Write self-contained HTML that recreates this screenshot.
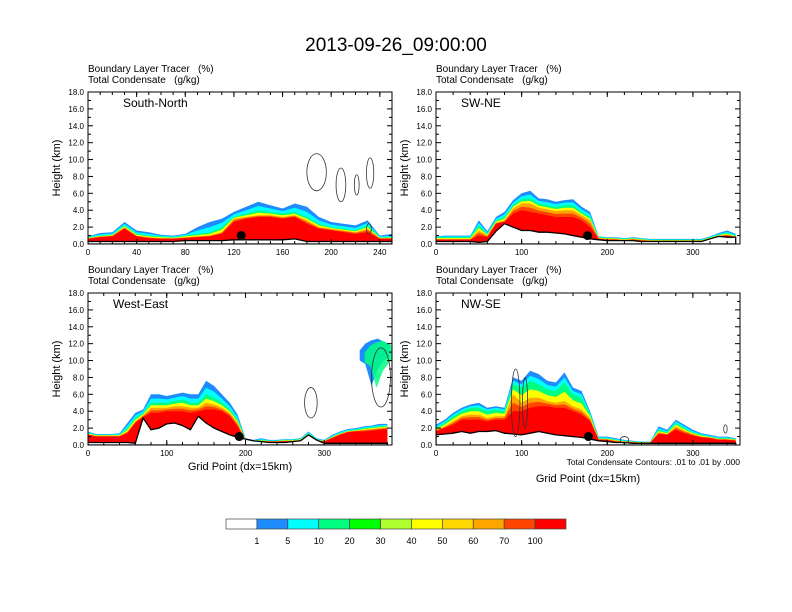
<!DOCTYPE html>
<html><head><meta charset="utf-8"><style>
body{margin:0;background:#fff;}
svg{display:block;font-family:"Liberation Sans",sans-serif;}
text{white-space:pre;}
</style></head>
<body>
<svg id="chart" width="792" height="612" viewBox="0 0 792 612" xmlns="http://www.w3.org/2000/svg">
<rect x="0" y="0" width="792" height="612" fill="#fff"/>
<text x="396" y="51" font-size="19" text-anchor="middle">2013-09-26_09:00:00</text>
</svg>
<script>
// ---- data (heights in km, sampled every 10 grid points) ----
const p1Terrain=[0.3,0.3,0.3,0.3,0.3,0.3,0.3,0.3,0.4,0.4,0.4,0.4,0.5,0.5,0.5,0.5,0.5,0.6,0.3,0.3,0.3,0.3,0.3,0.3,0.3,0.3];
const p1Blue=[0.9,1.3,1.4,2.6,1.6,1.4,1.1,1.0,1.2,2.0,2.6,3.0,3.8,4.4,5.0,4.6,4.2,4.8,4.4,3.2,2.6,2.4,2.2,2.8,1.0,1.2];
const p1Green=[0.8,1.0,1.1,2.2,1.2,1.0,0.9,0.8,1.0,1.2,1.4,2.0,3.2,3.6,4.0,3.8,3.6,3.8,3.2,2.4,2.0,1.8,1.6,2.2,0.8,0.8];
const p1Orange=[0.7,0.9,1.0,2.0,1.0,0.8,0.7,0.7,0.8,0.9,1.0,1.4,3.0,3.2,3.4,3.4,3.2,3.4,2.8,2.0,1.8,1.6,1.4,1.8,0.7,0.7];
const p1Red=[0.6,0.8,0.9,1.8,0.9,0.7,0.6,0.6,0.7,0.8,0.9,1.2,2.6,3.0,3.2,3.2,3.0,3.2,2.4,1.8,1.6,1.4,1.2,1.4,0.6,0.6];

const p2Terrain=[0.3,0.3,0.3,0.3,0.3,0.2,0.3,1.5,2.4,2.0,1.6,1.6,1.4,1.4,1.3,1.2,1.0,0.8,0.6,0.5,0.4,0.4,0.4,0.4,0.3,0.3,0.3,0.3,0.3,0.3,0.3,0.3,0.6,0.9,0.8,0.8];
const p2Blue=[0.9,1.0,1.0,1.0,1.0,2.8,1.5,3.2,3.8,5.2,6.0,6.3,5.4,5.3,5.0,5.2,5.3,4.4,3.8,0.9,0.8,0.8,0.7,0.8,0.7,0.6,0.6,0.6,0.6,0.6,0.6,0.6,0.9,1.3,1.6,1.2];
const p2Green=[0.8,0.8,0.8,0.8,0.8,2.2,1.2,2.8,3.2,4.6,5.3,5.4,4.8,4.6,4.4,4.6,4.6,3.8,3.2,0.8,0.7,0.7,0.6,0.7,0.6,0.5,0.5,0.5,0.5,0.5,0.5,0.5,0.8,1.1,1.3,1.0];
const p2Orange=[0.6,0.6,0.6,0.6,0.6,1.6,1.0,2.5,2.8,4.2,4.8,4.8,4.3,4.1,3.9,4.0,4.0,3.4,2.8,0.7,0.6,0.6,0.5,0.6,0.5,0.4,0.4,0.4,0.4,0.4,0.4,0.4,0.7,1.0,1.1,0.9];
const p2Red=[0.5,0.5,0.5,0.5,0.5,1.0,0.8,2.4,2.6,3.6,4.0,3.8,3.6,3.4,3.2,3.2,3.2,2.8,2.0,0.6,0.5,0.5,0.4,0.5,0.4,0.35,0.35,0.35,0.35,0.35,0.35,0.35,0.6,0.9,1.0,0.8];

const p3Terrain=[0.3,0.3,0.3,0.3,0.3,0.3,0.2,3.2,1.8,2.0,2.5,2.6,2.3,1.8,3.4,2.6,2.0,1.6,1.2,0.9,0.7,0.5,0.4,0.3,0.3,0.3,0.4,0.5,1.2,0.6,0.2,0.2,0.2,0.2,0.2,0.2,0.2,0.2,0.2];
const p3Blue=[1.6,1.3,1.3,1.3,1.4,2.6,3.8,4.2,6.0,6.0,5.8,6.0,6.2,6.0,6.0,7.6,7.0,6.0,5.0,3.6,0.8,0.6,0.8,0.6,0.6,0.7,0.7,0.8,1.6,0.8,0.6,1.2,1.6,1.9,2.0,2.2,2.3,2.5,2.5];
const p3Green=[1.4,1.2,1.2,1.2,1.2,2.0,3.2,3.8,5.0,5.0,5.0,5.2,5.4,5.0,5.0,6.0,5.6,5.0,4.2,3.0,0.7,0.5,0.6,0.5,0.5,0.6,0.6,0.7,1.4,0.7,0.5,1.0,1.4,1.7,1.8,2.0,2.1,2.2,2.3];
const p3Orange=[1.3,1.1,1.1,1.1,1.1,1.6,2.8,3.5,4.4,4.4,4.4,4.6,4.6,4.4,4.4,5.0,4.8,4.4,3.8,2.6,0.6,0.45,0.5,0.45,0.45,0.5,0.5,0.6,1.2,0.6,0.45,0.9,1.3,1.6,1.7,1.8,1.9,2.0,2.1];
const p3Red=[1.2,1.0,1.0,1.0,1.0,1.4,2.6,3.3,3.8,3.8,4.0,4.0,4.0,3.8,4.0,4.2,4.2,4.0,3.4,2.2,0.5,0.4,0.45,0.4,0.4,0.45,0.45,0.5,1.0,0.5,0.4,0.8,1.2,1.5,1.6,1.6,1.7,1.8,1.9];
const p3UpperX=[345,352,360,368,376,383];
const p3UpperBottom=[10.0,9.6,7.0,9.0,10.0,10.5];
const p3UpperTop=[11.2,12.0,12.4,12.6,12.2,11.8];

const p4Terrain=[1.2,1.3,1.4,1.6,1.4,1.6,1.6,1.7,1.4,1.3,1.2,1.4,1.6,1.4,1.2,1.1,1.0,0.9,0.7,0.5,0.4,0.3,0.3,0.2,0.2,0.2,0.2,0.2,0.2,0.2,0.2,0.2,0.2,0.2,0.2,0.2];
const p4Blue=[2.4,3.0,3.8,4.4,4.8,5.0,4.4,4.6,4.4,8.0,7.6,8.8,8.4,7.6,7.4,8.6,6.8,6.4,4.0,1.0,1.0,0.8,0.6,0.5,0.4,0.4,2.2,1.8,3.0,2.4,1.8,1.4,1.2,1.0,1.0,0.8];
const p4Green=[2.0,2.6,3.4,4.0,4.4,4.4,4.0,4.2,4.0,7.2,6.8,7.6,7.2,6.6,6.4,7.4,6.0,5.6,3.6,0.8,0.8,0.6,0.5,0.4,0.35,0.35,1.8,1.5,2.6,2.0,1.5,1.2,1.0,0.8,0.8,0.7];
const p4Orange=[1.8,2.2,2.8,3.4,3.6,3.6,3.2,3.4,3.4,6.0,5.0,5.6,5.6,5.2,5.0,5.2,4.6,4.2,3.2,0.7,0.7,0.5,0.4,0.35,0.3,0.3,1.5,1.3,2.2,1.7,1.3,1.0,0.9,0.7,0.7,0.6];
const p4Red=[1.6,2.0,2.4,3.0,3.0,3.0,2.8,3.0,3.0,4.0,4.0,4.4,4.6,4.6,4.4,4.4,4.0,3.6,2.8,0.6,0.6,0.4,0.35,0.3,0.25,0.25,1.3,1.2,1.8,1.4,1.1,0.9,0.8,0.6,0.6,0.5];

// contour ellipses: [cx grid, cy km, rx grid, ry km]
const p1Contours=[[188,8.5,8,2.2],[208,7.0,4,2.0],[221,7.0,2,1.2],[232,8.4,3,1.8],[231,1.8,2,0.6]];
const p3Contours=[[283,5.0,8,1.8],[372,8.0,12,3.5]];
const p4Contours=[[93,5.0,5,4.0],[104,5.0,3,3.0],[220,0.6,5,0.4],[338,1.9,2,0.5]];

const stationX=[126,177,192,178];
const stationZ=[1.0,1.0,1.0,1.0];

const yTicks=[0,2,4,6,8,10,12,14,16,18];
const yTickLabels=["0.0","2.0","4.0","6.0","8.0","10.0","12.0","14.0","16.0","18.0"];
const cbLabels=["1","5","10","20","30","40","50","60","70","100"];
const cbColors=["#ffffff","#1e8cff","#00ffff","#00ff80","#00ff00","#adff2f","#ffff00","#ffd700","#ffa500","#ff4500","#ff0000"];

const panels=[
 {name:"south-north",label:"South-North",x0:88,x1:392,y0:92,y1:244,xmax:250,xt:[0,40,80,120,160,200,240],xm:10,
  terr:p1Terrain,blue:p1Blue,green:p1Green,orange:p1Orange,red:p1Red,cont:p1Contours,xaxis:false},
 {name:"sw-ne",label:"SW-NE",x0:436,x1:740,y0:92,y1:244,xmax:355,xt:[0,100,200,300],xm:20,
  terr:p2Terrain,blue:p2Blue,green:p2Green,orange:p2Orange,red:p2Red,cont:[],xaxis:false},
 {name:"west-east",label:"West-East",x0:88,x1:392,y0:293,y1:445,xmax:386,xt:[0,100,200,300],xm:20,
  terr:p3Terrain,blue:p3Blue,green:p3Green,orange:p3Orange,red:p3Red,cont:p3Contours,xaxis:true},
 {name:"nw-se",label:"NW-SE",x0:436,x1:740,y0:293,y1:445,xmax:355,xt:[0,100,200,300],xm:20,
  terr:p4Terrain,blue:p4Blue,green:p4Green,orange:p4Orange,red:p4Red,cont:p4Contours,xaxis:true}
];

const NS="http://www.w3.org/2000/svg";
const svg=document.getElementById('chart');
function mk(tag,attrs,parent){const e=document.createElementNS(NS,tag);for(const k in attrs)e.setAttribute(k,attrs[k]);(parent||svg).appendChild(e);return e;}

panels.forEach((p,pi)=>{
  const g=mk('g',{});
  
  
  const X=v=>p.x0+(p.x1-p.x0)*Math.min(v,p.xmax)/p.xmax;
  const Y=v=>p.y1-(p.y1-p.y0)*v/18;
  const xs=p.blue.map((_,i)=>i*10);
  const clip='clip'+pi;
  const cp=mk('clipPath',{id:clip},g);
  mk('rect',{x:p.x0,y:p.y0,width:p.x1-p.x0,height:p.y1-p.y0},cp);
  const fg=mk('g',{'clip-path':'url(#'+clip+')'},g);
  function area(top,color,nm){
    let d='M'+X(0)+','+Y(0);
    top.forEach((v,i)=>{d+=' L'+X(xs[i]).toFixed(1)+','+Y(v).toFixed(1);});
    d+=' L'+X(xs[xs.length-1])+','+Y(0)+' Z';
    const e=mk('path',{d:d,fill:color},fg);
    
    
  }
  const avg=(a,b)=>a.map((v,i)=>(v+b[i])/2);
  area(p.blue,cbColors[1],'band-1-5');
  area(avg(p.blue,p.green),cbColors[2],'band-5-10');
  area(p.green,cbColors[3],'band-10-20');
  area(avg(p.green,p.orange),cbColors[6],'band-40-50');
  area(p.orange,cbColors[8],'band-60-70');
  area(avg(p.orange,p.red),cbColors[9],'band-70-100');
  area(p.red,cbColors[10],'band-100');
  if(pi===2){
    let d='';
    p3UpperX.forEach((x,i)=>{d+=(i?' L':'M')+X(x)+','+Y(p3UpperTop[i]);});
    for(let i=p3UpperX.length-1;i>=0;i--)d+=' L'+X(p3UpperX[i])+','+Y(p3UpperBottom[i]);
    d+=' Z';
    const e=mk('path',{d:d,fill:cbColors[1]},fg);
    
    
    const e2=mk('path',{d:d,fill:cbColors[3],transform:'translate(5,2)',opacity:0.85},fg);
    
    
  }
  // terrain
  let td='M'+X(0)+','+Y(0);
  p.terr.forEach((v,i)=>{td+=' L'+X(xs[i]).toFixed(1)+','+Y(v).toFixed(1);});
  td+=' L'+X(xs[xs.length-1])+','+Y(0)+' Z';
  const t=mk('path',{d:td,fill:'#fff',stroke:'#000','stroke-width':1.3},fg);
  
  
  p.cont.forEach(c=>{
    const e=mk('ellipse',{cx:X(c[0]),cy:Y(c[1]),rx:(p.x1-p.x0)*c[2]/p.xmax,ry:(p.y1-p.y0)*c[3]/18,fill:'none',stroke:'#333','stroke-width':0.8},fg);
    
    
  });
  const dot=mk('circle',{cx:X(stationX[pi]),cy:Y(stationZ[pi]),r:4.5,fill:'#000'},g);
  
  
  // frame
  const fr=mk('rect',{x:p.x0,y:p.y0,width:p.x1-p.x0,height:p.y1-p.y0,fill:'none',stroke:'#000','stroke-width':1},g);
  
  
  // y ticks
  yTicks.forEach((v,i)=>{
    mk('line',{x1:p.x0,x2:p.x0+5,y1:Y(v),y2:Y(v),stroke:'#000'},g);
    mk('line',{x1:p.x1,x2:p.x1-5,y1:Y(v),y2:Y(v),stroke:'#000'},g);
    if(v<18){mk('line',{x1:p.x0,x2:p.x0+3,y1:Y(v+1),y2:Y(v+1),stroke:'#000'},g);mk('line',{x1:p.x1,x2:p.x1-3,y1:Y(v+1),y2:Y(v+1),stroke:'#000'},g);}
    const tl=mk('text',{x:p.x0-4,y:Y(v)+3,'font-size':8,'text-anchor':'end'},g);
    tl.textContent=yTickLabels[i];
    
    
  });
  for(let v=0;v<=p.xmax;v+=p.xm){
    mk('line',{x1:X(v),x2:X(v),y1:p.y1,y2:p.y1-3,stroke:'#000'},g);
    mk('line',{x1:X(v),x2:X(v),y1:p.y0,y2:p.y0+3,stroke:'#000'},g);
  }
  p.xt.forEach(v=>{
    mk('line',{x1:X(v),x2:X(v),y1:p.y1,y2:p.y1-5,stroke:'#000'},g);
    mk('line',{x1:X(v),x2:X(v),y1:p.y0,y2:p.y0+5,stroke:'#000'},g);
    const tl=mk('text',{x:X(v),y:p.y1+11,'font-size':8,'text-anchor':'middle'},g);
    tl.textContent=String(v);
    
    
  });
  const yt=mk('text',{x:0,y:0,'font-size':11,'text-anchor':'middle',transform:'translate('+(p.x0-28)+','+((p.y0+p.y1)/2)+') rotate(-90)'},g);
  yt.textContent='Height (km)';
  
  
  const h1=mk('text',{x:p.x0,y:p.y0-20,'font-size':10},g);
  h1.textContent='Boundary Layer Tracer   (%)';
  
  
  const h2=mk('text',{x:p.x0,y:p.y0-9,'font-size':10},g);
  h2.textContent='Total Condensate   (g/kg)';
  
  
  const lb=mk('text',{x:p.x0+(pi===0?35:25),y:p.y0+15,'font-size':12},g);
  lb.textContent=p.label;
  
  
  if(p.xaxis){
    const xt=mk('text',{x:(p.x0+p.x1)/2,y:pi===2?470:482,'font-size':11,'text-anchor':'middle'},g);
    xt.textContent='Grid Point (dx=15km)';
    
    
  }
});
const note=mk('text',{x:740,y:465,'font-size':8.5,'text-anchor':'end'});
note.textContent='Total Condensate Contours: .01 to .01 by .000';



// colorbar
const cbx=226,cbw=340/11;
const cb=mk('g',{});


cbColors.forEach((c,i)=>{
  const r=mk('rect',{x:cbx+i*cbw,y:519,width:cbw,height:10,fill:c,stroke:'#444','stroke-width':0.7},cb);
  
  
});
cbLabels.forEach((l,i)=>{
  const t=mk('text',{x:cbx+(i+1)*cbw,y:544,'font-size':9,'text-anchor':'middle'},cb);
  t.textContent=l;
  
  
});
</script>
</body></html>
